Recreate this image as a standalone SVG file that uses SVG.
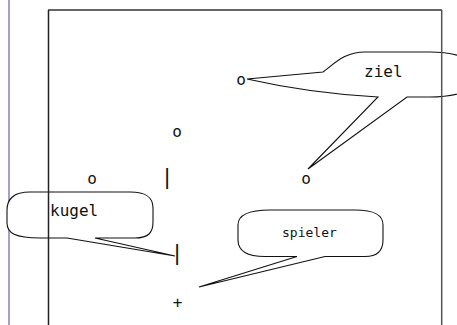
<svg xmlns="http://www.w3.org/2000/svg" width="457" height="325" viewBox="0 0 457 325">
<style>
.t{font-family:"DejaVu Sans Mono","Liberation Mono",monospace;font-size:16px;fill:#111}
.s{font-size:13px}
.bar{font-family:"Liberation Mono",monospace;font-size:22px}
.b{fill:#fff;stroke:#111;stroke-width:1.1;stroke-linejoin:miter}
</style>
<rect width="457" height="325" fill="#fff"/>
<line x1="9" y1="0" x2="9" y2="325" stroke="#a99ccf" stroke-width="2"/>
<g id="connectors">
<g id="ziel-callout">
<path class="b" d="M247,79 L323,72 C335,63 345,52 365,52 L430,52 C450,52 482,58 482,75 C482,92 450,97 430,97 L407,97 L308,169 L378,97 C340,95 300,91 247,79 Z"/>
<text class="t" x="364" y="77">ziel</text>
</g>
<g id="kugel-callout">
<path class="b" d="M67,238 L175,256 L95,238 L135,238 C149,238 153,232 153,222 L153,208 C153,197 146,192 130,192 L30,192 C13,192 7,200 7,210 L7,223 C7,233 15,238 40,238 Z"/>
<text class="t" x="50" y="216">kugel</text>
</g>
<g id="spieler-callout">
<path class="b" d="M297,256.5 L199,287 L325,256.5 L365,256.5 C378,256.5 383,250 383,240 L383,225 C383,215 375,210 355,210 L270,210 C250,210 238,214 238,225 L238,240 C238,251 248,256.5 265,256.5 Z"/>
<text class="t s" x="282" y="237">spieler</text>
</g>
</g>
<g id="frame">
<line x1="48" y1="10" x2="442" y2="10" stroke="#333" stroke-width="1.5"/>
<line x1="48.5" y1="10" x2="48.5" y2="325" stroke="#222" stroke-width="1.5"/>
<line x1="441.7" y1="10" x2="441.7" y2="325" stroke="#555" stroke-width="1.5"/>
</g>
<g id="ziel1"><text class="t" x="241" y="85" text-anchor="middle">o</text></g>
<g id="o2"><text class="t" x="177" y="136.5" text-anchor="middle">o</text></g>
<g id="o3"><text class="t" x="92" y="184" text-anchor="middle">o</text></g>
<g id="bar1"><text class="t bar" x="167" y="183.7" text-anchor="middle">|</text></g>
<g id="ziel2"><text class="t" x="306" y="183.5" text-anchor="middle">o</text></g>
<g id="kugel"><text class="t bar" x="177" y="259.7" text-anchor="middle">|</text></g>
<g id="spieler"><text class="t" x="177.5" y="308" text-anchor="middle">+</text></g>
</svg>
